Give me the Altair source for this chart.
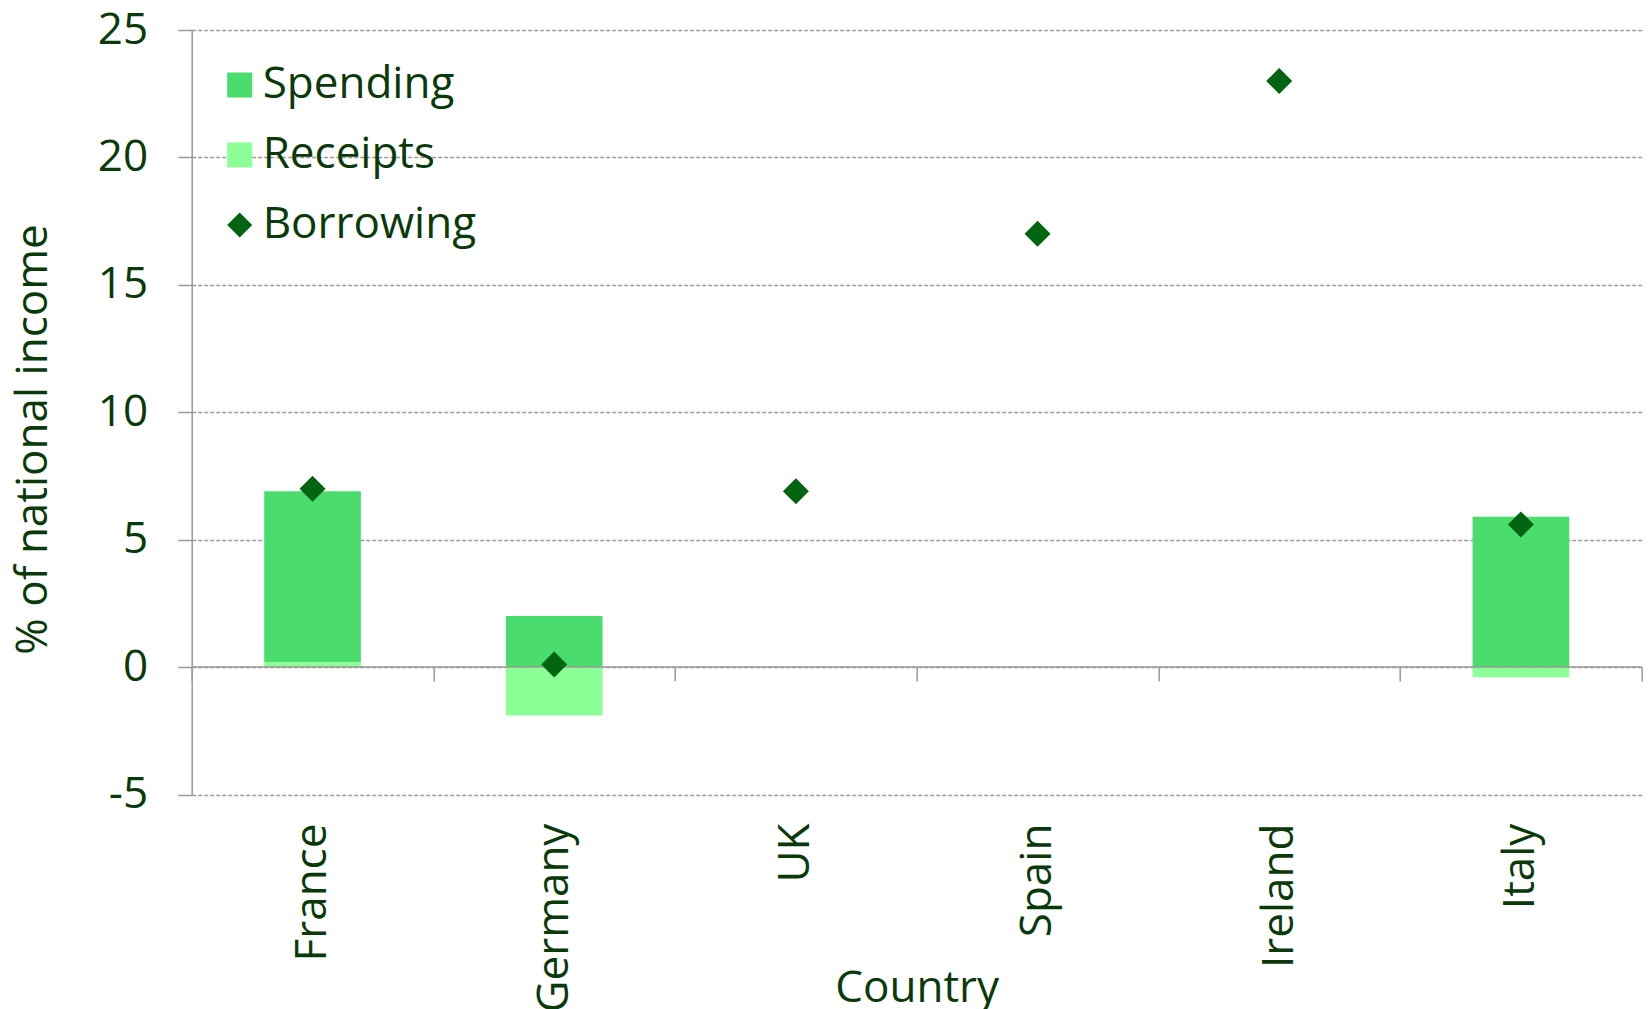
import altair as alt
import pandas as pd

countries = ["France", "Germany", "UK", "Spain", "Ireland", "Italy"]
spending = [6.7, 2.0, 0.0, 0.0, 0.0, 5.9]
receipts = [0.2, -1.9, 0.0, 0.0, 0.0, -0.4]
borrowing = [7.0, 0.1, 6.9, 17.0, 23.0, 5.6]

series = ["Spending", "Receipts", "Borrowing"]
colors = ["#4bdc6e", "#8cff96", "#006410"]
shapes = ["square", "square", "diamond"]
y_ticks = [-5, 0, 5, 10, 15, 20, 25]

rows = []
for i, c in enumerate(countries):
    rows.append({"Country": c, "Series": "Receipts", "Value": receipts[i], "ord": 0})
    rows.append({"Country": c, "Series": "Spending", "Value": spending[i], "ord": 1})
    rows.append({"Country": c, "Series": "Borrowing", "Value": borrowing[i], "ord": 2})
df = pd.DataFrame(rows)
zero_df = pd.DataFrame({"Value": [0.0]})

W, H = 1450, 764.5
ymin, ymax = -5, 25
zero_offset = -H * (0 - ymin) / (ymax - ymin)

FONT = "Open Sans"
TXT = "#0a3a0a"
GRAY = "#9a9a9a"
FS = 44

x_axis = alt.Axis(
    title="Country", labelAngle=-90, labelAlign="right", labelBaseline="middle",
    offset=zero_offset, tickBand="extent", tickSize=14, labelPadding=142,
    domain=False, tickColor=GRAY, tickWidth=1.5, grid=False, labelLimit=0,
    titleY=334, titleBaseline="alphabetic",
)
y_axis = alt.Axis(
    values=y_ticks, title="% of national income", grid=True, gridDash=[4, 2],
    gridColor=GRAY, gridWidth=1.3, tickSize=14, tickColor=GRAY, tickWidth=1.5,
    domainColor=GRAY, domainWidth=1.5, labelPadding=30,
    labelExpr="datum.value + ''",
    titleX=-158, titleY=409, titleAngle=-90, titleAlign="center", titleBaseline="middle",
)
x_enc = alt.X("Country:N", sort=countries,
              scale=alt.Scale(paddingInner=0, paddingOuter=0), axis=x_axis)
y_scale = alt.Scale(domain=[ymin, ymax], nice=False, zero=False)

legend = alt.Legend(
    orient="none", legendX=26, legendY=33, title=None, labelFontSize=FS,
    labelFont=FONT, labelColor=TXT, symbolSize=625, rowPadding=26, labelOffset=1,
    symbolStrokeWidth=0, padding=0, labelLimit=0,
)
color = alt.Color("Series:N", scale=alt.Scale(domain=series, range=colors), legend=legend)

bars = alt.Chart(df).transform_filter(
    alt.datum.Series != "Borrowing"
).mark_bar(width=alt.RelativeBandSize(0.4)).encode(
    x=x_enc,
    y=alt.Y("Value:Q", stack="zero", scale=y_scale, axis=y_axis),
    color=color,
    order=alt.Order("ord:Q"),
)

zero_rule = alt.Chart(zero_df).mark_rule(color=GRAY, strokeWidth=1.5).encode(
    y=alt.Y("Value:Q", scale=y_scale, axis=y_axis),
)

points = alt.Chart(df).transform_filter(
    alt.datum.Series == "Borrowing"
).mark_point(filled=True, size=676, opacity=1).encode(
    x=x_enc,
    y=alt.Y("Value:Q", scale=y_scale, axis=y_axis),
    color=color,
    shape=alt.Shape("Series:N", scale=alt.Scale(domain=series, range=shapes), legend=legend),
)

chart = alt.layer(bars, zero_rule, points).properties(
    width=W, height=H,
    autosize=alt.AutoSizeParams(type="none"),
    padding={"left": 191.7, "top": 30, "right": 6.3, "bottom": 214.5},
    background="white",
).configure_view(stroke=None).configure_axis(
    labelFont=FONT, titleFont=FONT, labelFontSize=FS, titleFontSize=FS,
    labelColor=TXT, titleColor=TXT, titleFontWeight="normal",
)

chart.save("out.html", embed_options={"renderer": "svg", "actions": False})
